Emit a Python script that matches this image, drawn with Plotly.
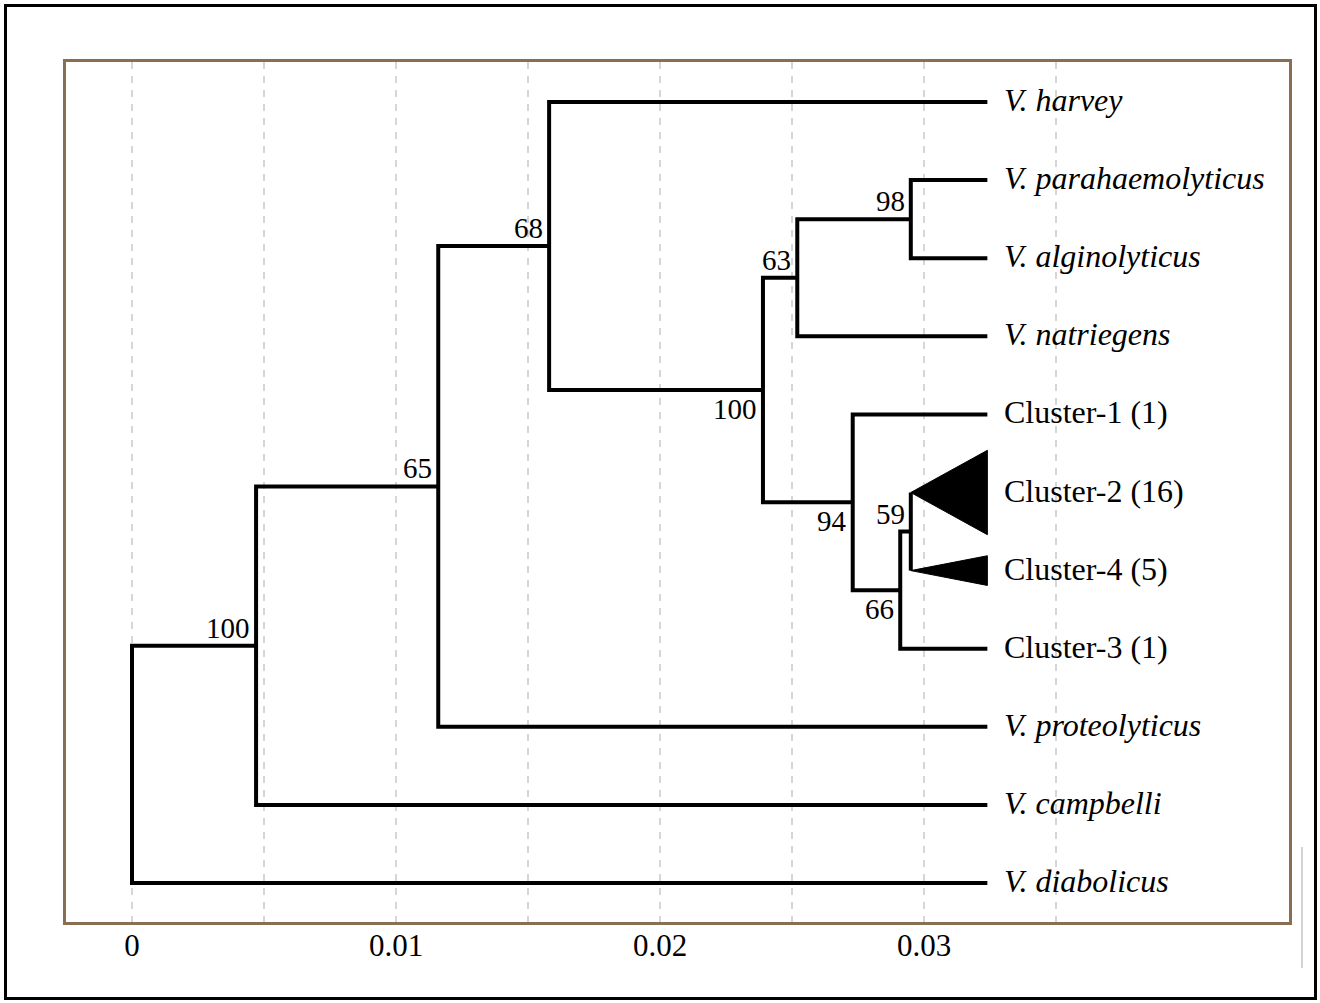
import plotly.graph_objects as go

# ---------------- data ----------------
leaf_names = ["V. harvey", "V. parahaemolyticus", "V. alginolyticus", "V. natriegens",
              "Cluster-1 (1)", "Cluster-2 (16)", "Cluster-4 (5)", "Cluster-3 (1)",
              "V. proteolyticus", "V. campbelli", "V. diabolicus"]
leaf_italic = [True, True, True, True, False, False, False, False, True, True, True]
leaf_tip_x = [0.0324, 0.0324, 0.0324, 0.0324, 0.0324, 0.0324, 0.0324, 0.0324,
              0.0324, 0.0324, 0.0324]

# collapsed subtrees (drawn as triangles)
collapsed_names = ["Cluster-2 (16)", "Cluster-4 (5)"]
collapsed_root_x = [0.0295, 0.0295]
collapsed_half_span = [0.54, 0.19]

# internal nodes
node_names = ["root", "A", "B", "C", "D", "E", "F", "G", "H", "I"]
node_x = [0.0, 0.0047, 0.0116, 0.0158, 0.0239, 0.0252, 0.0295, 0.0273, 0.0291, 0.0295]
node_children = [["A", "V. diabolicus"],
                 ["B", "V. campbelli"],
                 ["C", "V. proteolyticus"],
                 ["V. harvey", "D"],
                 ["E", "G"],
                 ["F", "V. natriegens"],
                 ["V. parahaemolyticus", "V. alginolyticus"],
                 ["Cluster-1 (1)", "H"],
                 ["I", "Cluster-3 (1)"],
                 ["Cluster-2 (16)", "Cluster-4 (5)"]]
node_support = [None, 100, 65, 68, 100, 63, 98, 94, 66, 59]
support_side = ["", "above", "above", "above", "below", "above", "above", "below", "below", "above"]

x_tickvals = [0, 0.01, 0.02, 0.03]
x_ticktext = ["0", "0.01", "0.02", "0.03"]
x_minor_grid = [0.005, 0.015, 0.025, 0.035]

# ---------------- layout helpers ----------------
W, H = 1320, 1003
PL, PR, PT, PB = 66, 1289, 62, 922          # plot-area pixel box
px_per_unit = 26400.0
x0 = -(132 - PL) / px_per_unit
x1 = x0 + (PR - PL) / px_per_unit
row_px = 78.1
y_top = -(102 - PT) / row_px
y_bot = (PB - 102) / row_px

SERIF = "Liberation Serif, Times New Roman, serif"

# positions
pos_x = {}
pos_y = {}
for i, n in enumerate(leaf_names):
    pos_y[n] = float(i)
    pos_x[n] = leaf_tip_x[i]
for n, rx in zip(collapsed_names, collapsed_root_x):
    pos_x[n] = rx
for n, x in zip(node_names, node_x):
    pos_x[n] = x
children = dict(zip(node_names, node_children))


def get_y(n):
    if n in pos_y:
        return pos_y[n]
    ys = [get_y(c) for c in children[n]]
    pos_y[n] = (ys[0] + ys[-1]) / 2.0
    return pos_y[n]


for n in node_names:
    get_y(n)

# ---------------- traces ----------------
fig = go.Figure()

lx, ly = [], []
for n in node_names:
    c1, c2 = children[n]
    lx += [pos_x[c1], pos_x[n], pos_x[n], pos_x[c2], None]
    ly += [pos_y[c1], pos_y[c1], pos_y[c2], pos_y[c2], None]
fig.add_trace(go.Scatter(x=lx, y=ly, mode="lines",
                         line=dict(color="black", width=4),
                         hoverinfo="skip", showlegend=False))

tip_lookup = dict(zip(leaf_names, leaf_tip_x))
for n, rx, hs in zip(collapsed_names, collapsed_root_x, collapsed_half_span):
    yc = pos_y[n]
    tx = tip_lookup[n]
    fig.add_trace(go.Scatter(x=[rx, tx, tx, rx], y=[yc, yc - hs, yc + hs, yc],
                             mode="lines", fill="toself", fillcolor="black",
                             line=dict(color="black", width=1),
                             hoverinfo="skip", showlegend=False))

annotations = []
for i, n in enumerate(leaf_names):
    txt = f"<i>{n}</i>" if leaf_italic[i] else n
    annotations.append(dict(x=leaf_tip_x[i], y=pos_y[n], text=txt, showarrow=False,
                            xanchor="left", yanchor="middle", xshift=15, yshift=2,
                            font=dict(family=SERIF, size=32, color="black")))

for n, s, side in zip(node_names, node_support, support_side):
    if s is None:
        continue
    annotations.append(dict(x=pos_x[n], y=pos_y[n], text=str(s), showarrow=False,
                            xanchor="right", yanchor="middle", xshift=-4,
                            yshift=18 if side == "above" else -19,
                            font=dict(family=SERIF, size=29, color="black")))


def px2paper_x(p):
    return (p - PL) / (PR - PL)


def px2paper_y(p):
    return (PB - p) / (PB - PT)


shapes = [
    dict(type="rect", xref="paper", yref="paper",
         x0=px2paper_x(5.5), x1=px2paper_x(1315.5), y0=px2paper_y(998.5), y1=px2paper_y(5.5),
         line=dict(color="black", width=3), layer="above"),
    dict(type="line", xref="paper", yref="paper",
         x0=px2paper_x(1302), x1=px2paper_x(1302), y0=px2paper_y(968), y1=px2paper_y(847),
         line=dict(color="#d4d4d4", width=2)),
]

BROWN = "#8a6e52"
fig.update_layout(
    width=W, height=H,
    margin=dict(l=PL, r=W - PR, t=PT, b=H - PB, pad=0),
    paper_bgcolor="white", plot_bgcolor="white",
    showlegend=False,
    annotations=annotations,
    shapes=shapes,
    xaxis=dict(range=[x0, x1], showline=True, mirror=True, linecolor=BROWN, linewidth=3,
               tickvals=x_tickvals, ticktext=x_ticktext, ticks="", ticklen=0,
               ticklabelstandoff=-6,
               tickfont=dict(family=SERIF, size=31, color="black"),
               showgrid=True, gridcolor="#d6d6d6", gridwidth=1.5, griddash="7px,7px",
               minor=dict(tickvals=x_minor_grid, showgrid=True, gridcolor="#d6d6d6",
                          gridwidth=1.5, griddash="7px,7px", ticks=""),
               zeroline=False, fixedrange=True),
    yaxis=dict(range=[y_bot, y_top], showline=True, mirror=True, linecolor=BROWN, linewidth=3,
               showticklabels=False, ticks="", showgrid=False, zeroline=False, fixedrange=True),
)

fig.write_html("out.html", config={"displayModeBar": False},
               post_script="document.body.style.margin='0';document.body.style.overflow='hidden';")
